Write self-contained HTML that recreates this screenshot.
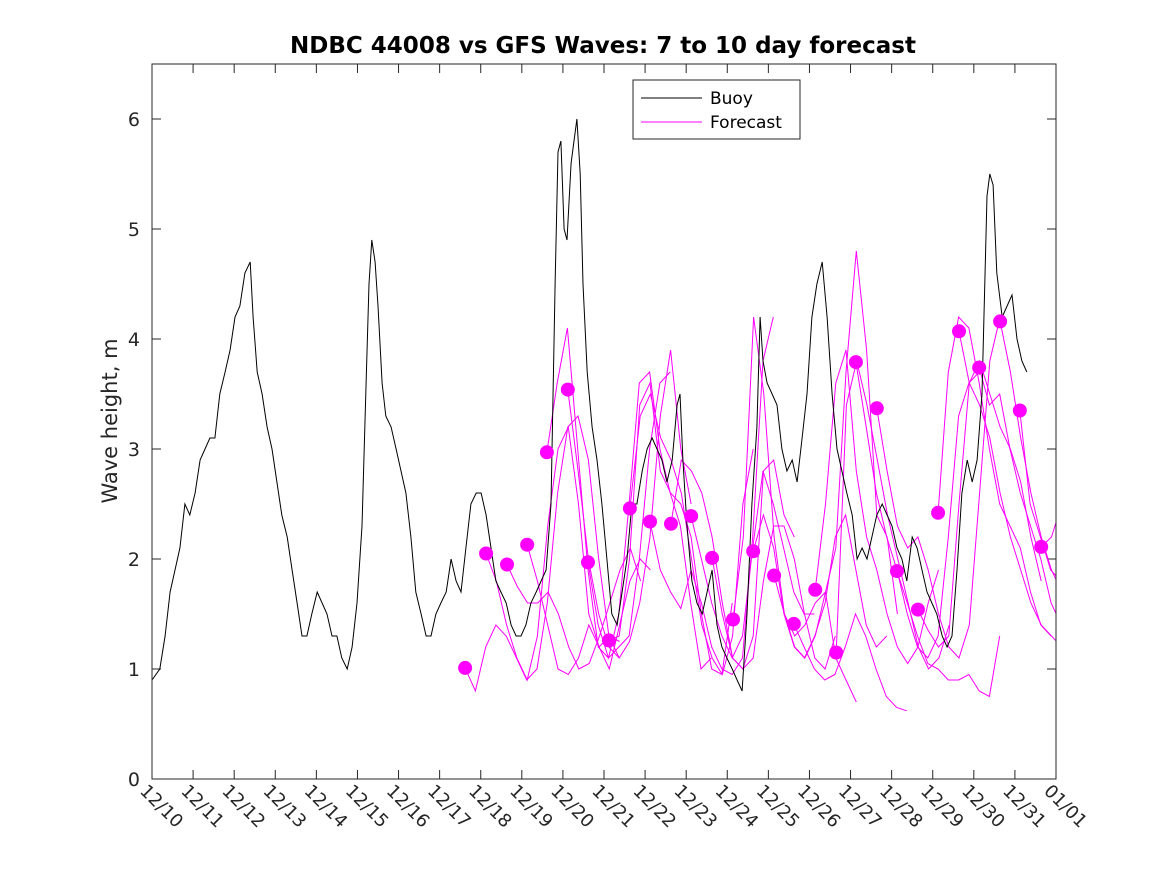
<!DOCTYPE html>
<html><head><meta charset="utf-8">
<style>
html,body{margin:0;padding:0;background:#fff;}
svg{display:block;font-family:"DejaVu Sans","Liberation Sans",sans-serif;}
</style></head>
<body>
<svg id="chart" width="1167" height="875" viewBox="0 0 1167 875" xmlns="http://www.w3.org/2000/svg">
<rect width="1167" height="875" fill="#fff"/>
<text x="603" y="53" text-anchor="middle" font-size="23" font-weight="bold" fill="#000">NDBC 44008 vs GFS Waves: 7 to 10 day forecast</text>
<text transform="translate(117,421) rotate(-90)" text-anchor="middle" font-size="21" fill="#262626">Wave height, m</text>
<defs><clipPath id="plotclip"><rect x="152" y="64" width="904" height="715"/></clipPath></defs>
<g id="ticks"></g>
<g id="marks" clip-path="url(#plotclip)"></g>
<rect x="152" y="64" width="904" height="715" fill="none" stroke="#262626" stroke-width="1"/>
<g>
<rect x="633" y="80" width="167" height="59" fill="#fff" stroke="#262626" stroke-width="1"/>
<line x1="641" y1="98" x2="702" y2="98" stroke="#000" stroke-width="1"/>
<text x="710" y="104" font-size="17" fill="#000">Buoy</text>
<line x1="641" y1="122" x2="702" y2="122" stroke="#f0f" stroke-width="1"/>
<text x="710" y="128" font-size="17" fill="#000">Forecast</text>
</g>
</svg>
<script>
const xTickLabels=["12/10","12/11","12/12","12/13","12/14","12/15","12/16","12/17","12/18","12/19","12/20","12/21","12/22","12/23","12/24","12/25","12/26","12/27","12/28","12/29","12/30","12/31","01/01"];
const yTicks=[0,1,2,3,4,5,6];
const buoyT=[0,0.19,0.32,0.44,0.56,0.68,0.80,0.92,1.05,1.17,1.29,1.41,1.53,1.65,1.78,1.90,2.02,2.14,2.26,2.39,2.46,2.56,2.68,2.80,2.92,3.04,3.16,3.29,3.41,3.53,3.65,3.77,3.89,4.02,4.14,4.26,4.38,4.50,4.62,4.75,4.87,4.99,5.11,5.21,5.28,5.35,5.43,5.50,5.60,5.69,5.82,5.94,6.06,6.18,6.30,6.42,6.55,6.67,6.79,6.91,7.03,7.16,7.28,7.40,7.52,7.64,7.76,7.89,8.01,8.13,8.25,8.37,8.49,8.62,8.74,8.86,8.98,9.10,9.22,9.35,9.47,9.59,9.71,9.81,9.88,9.95,10.03,10.10,10.20,10.27,10.34,10.42,10.49,10.59,10.71,10.83,10.95,11.07,11.19,11.32,11.44,11.56,11.68,11.80,11.93,12.05,12.17,12.29,12.41,12.53,12.66,12.78,12.85,12.92,13.02,13.14,13.26,13.39,13.51,13.63,13.75,13.87,13.99,14.12,14.24,14.36,14.48,14.60,14.72,14.80,14.87,14.97,15.09,15.21,15.33,15.45,15.58,15.70,15.82,15.94,16.06,16.18,16.31,16.43,16.55,16.67,16.79,16.91,17.04,17.16,17.28,17.40,17.52,17.64,17.77,17.89,18.01,18.13,18.25,18.37,18.50,18.62,18.74,18.86,18.98,19.10,19.23,19.35,19.47,19.59,19.71,19.84,19.96,20.08,20.20,20.32,20.39,20.47,20.56,20.69,20.81,20.93,21.05,21.17,21.29];
const buoyH=[0.9,1.0,1.3,1.7,1.9,2.1,2.5,2.4,2.6,2.9,3.0,3.1,3.1,3.5,3.7,3.9,4.2,4.3,4.6,4.7,4.2,3.7,3.5,3.2,3.0,2.7,2.4,2.2,1.9,1.6,1.3,1.3,1.5,1.7,1.6,1.5,1.3,1.3,1.1,1.0,1.2,1.6,2.3,3.6,4.5,4.9,4.7,4.3,3.6,3.3,3.2,3.0,2.8,2.6,2.2,1.7,1.5,1.3,1.3,1.5,1.6,1.7,2.0,1.8,1.7,2.1,2.5,2.6,2.6,2.4,2.1,1.8,1.7,1.6,1.4,1.3,1.3,1.4,1.6,1.7,1.8,1.9,2.5,4.5,5.7,5.8,5.0,4.9,5.6,5.8,6.0,5.5,4.5,3.7,3.2,2.9,2.5,2.0,1.5,1.4,1.7,2.0,2.5,2.5,2.8,3.0,3.1,3.0,2.9,2.7,2.9,3.4,3.5,2.9,2.3,1.8,1.6,1.5,1.7,1.9,1.4,1.2,1.1,1.0,0.9,0.8,1.5,2.5,3.2,4.2,3.8,3.6,3.5,3.4,3.0,2.8,2.9,2.7,3.1,3.5,4.2,4.5,4.7,4.2,3.5,3.0,2.8,2.6,2.4,2.0,2.1,2.0,2.2,2.4,2.5,2.4,2.3,2.1,2.0,1.8,2.2,2.1,1.9,1.7,1.6,1.5,1.3,1.2,1.3,1.9,2.6,2.9,2.7,2.9,3.5,5.3,5.5,5.4,4.6,4.2,4.3,4.4,4.0,3.8,3.7];
const fcStart=[7.62,8.13,8.64,9.13,9.61,10.12,10.61,11.12,11.63,12.12,12.63,13.12,13.63,14.14,14.63,15.14,15.62,16.14,16.65,17.13,17.64,18.13,18.64,19.13,19.64,20.13,20.64,21.12,21.64];
const fcDot=[1.01,2.05,1.95,2.13,2.97,3.54,1.97,1.26,2.46,2.34,2.32,2.39,2.01,1.45,2.07,1.85,1.41,1.72,1.15,3.79,3.37,1.89,1.54,2.42,4.07,3.74,4.16,3.35,2.11];
const fcVals=[
[1.01,0.8,1.2,1.4,1.3,1.1,0.9,1.0,1.6,2.6,3.2,3.3,2.9,2.0,1.3,1.1],
[2.05,1.8,1.4,1.1,0.9,1.3,2.3,3.0,3.2,2.5,1.5,1.2,1.3,1.25],
[1.95,1.75,1.6,1.6,1.7,1.5,1.2,1.0,1.05,1.3,1.6,1.9,2.1,1.8],
[2.13,1.8,1.4,1.0,0.95,1.1,1.4,1.2,1.0,1.4,1.8,2.0,1.9],
[2.97,3.6,4.1,3.0,1.9,1.2,1.1,1.2,1.3,2.0,3.0,3.6,3.7],
[3.54,2.8,2.0,1.5,1.2,1.1,1.25,1.6,2.2,3.3,3.9,3.0,2.5],
[1.97,1.4,1.1,1.5,2.5,3.6,3.7,3.0,2.6,2.3,1.6,1.0,1.1],
[1.26,1.3,2.0,3.4,3.6,2.8,2.6,2.5,2.2,1.5,1.0,0.95,1.6],
[2.46,3.3,3.5,3.1,2.9,2.6,2.0,1.4,1.1,0.95,1.3,2.5,3.0],
[2.34,1.9,1.7,1.55,1.9,1.6,1.2,1.0,0.95,1.1,2.2,3.8,4.2],
[2.32,2.9,2.8,2.6,2.2,1.6,1.1,1.0,1.3,2.8,2.9,2.4,2.2],
[2.39,2.0,1.6,1.3,1.1,1.3,2.1,2.8,2.5,2.1,1.7,1.5,1.5],
[2.01,1.5,1.1,1.0,1.1,1.8,2.3,2.3,2.0,1.5,1.1,1.0,1.3],
[1.45,2.2,4.2,3.5,2.2,1.5,1.3,1.4,1.6,1.7,1.1,0.9,0.7],
[2.07,2.4,2.1,1.5,1.2,1.1,1.3,1.6,2.2,2.4,1.9,1.4,1.2,1.3],
[1.85,1.5,1.2,1.1,1.3,1.7,2.1,3.7,4.8,3.9,2.4,2.2,1.5],
[1.41,1.2,1.0,0.9,0.95,1.2,1.5,1.3,1.0,0.75,0.65,0.62],
[1.72,2.5,3.6,3.9,2.8,2.2,1.9,1.5,1.2,1.05,1.2,1.6,1.9],
[1.15,3.4,3.8,3.4,2.9,2.4,2.0,1.6,1.2,1.0,1.1,1.4],
[3.79,3.2,2.6,2.2,1.9,1.5,1.2,1.1,1.3,2.2,3.3,3.6,3.7],
[3.37,2.8,2.3,2.1,2.2,1.9,1.5,1.2,1.1,1.4,2.6,3.8,4.2],
[1.89,1.6,1.3,1.05,1.0,0.9,0.9,0.95,0.8,0.75,1.3],
[1.54,1.35,1.2,1.3,2.5,3.6,3.8,3.5,3.2,3.0,2.7,2.2,1.8],
[2.42,3.7,4.2,4.1,3.6,3.0,2.5,2.3,2.1,1.7,1.4,1.3],
[4.07,3.6,3.4,3.1,2.6,2.2,1.9,1.6,1.4,1.3,1.2],
[3.74,3.4,3.5,3.0,2.6,2.3,2.0,1.6,1.4,1.2],
[4.16,3.7,3.1,2.6,2.2,1.9,1.7,1.5,1.4,1.25],
[3.35,2.5,2.2,1.9,1.8,1.8],
[2.11,2.2,2.5]
];
const fcStep=0.25;
const NS="http://www.w3.org/2000/svg";
const X0=152,X1=1056,Y0=779,Y1=64,DAYS=22,YMAX=6.5;
function xs(d){return X0+(X1-X0)*d/DAYS;}
function ys(v){return Y0-(Y0-Y1)*v/YMAX;}
function mk(tag,attrs,parent){const e=document.createElementNS(NS,tag);for(const k in attrs)e.setAttribute(k,attrs[k]);parent.appendChild(e);return e;}
const ticks=document.getElementById('ticks');
const marks=document.getElementById('marks');
xTickLabels.forEach((lab,i)=>{
  const x=xs(i);
  const t1=mk('line',{x1:x,y1:Y0,x2:x,y2:Y0-9,stroke:'#262626'},ticks);
  
  
  const t2=mk('line',{x1:x,y1:Y1,x2:x,y2:Y1+9,stroke:'#262626'},ticks);
  
  
  const tx=mk('text',{x:0,y:0,'font-size':18,fill:'#262626',transform:`translate(${x-13},${Y0+13}) rotate(45)`},ticks);
  tx.textContent=lab;
  
  
});
yTicks.forEach(v=>{
  const y=ys(v);
  const t1=mk('line',{x1:X0,y1:y,x2:X0+9,y2:y,stroke:'#262626'},ticks);
  
  
  const t2=mk('line',{x1:X1,y1:y,x2:X1-9,y2:y,stroke:'#262626'},ticks);
  
  
  const tx=mk('text',{x:X0-12,y:y+7,'font-size':19,fill:'#262626','text-anchor':'end'},ticks);
  tx.textContent=v;
  
  
});
fcVals.forEach((vals,i)=>{
  const pts=vals.map((v,j)=>xs(fcStart[i]+j*fcStep).toFixed(1)+','+ys(v).toFixed(1)).join(' ');
  const pl=mk('polyline',{points:pts,fill:'none',stroke:'#f0f','stroke-width':1},marks);
  
  
});
const bpts=buoyT.map((t,i)=>xs(t).toFixed(1)+','+ys(buoyH[i]).toFixed(1)).join(' ');
const bl=mk('polyline',{points:bpts,fill:'none',stroke:'#000','stroke-width':1},marks);


fcStart.forEach((t,i)=>{
  const c=mk('circle',{cx:xs(t),cy:ys(fcDot[i]),r:7,fill:'#f0f'},marks);
  
  
});
</script>
</body></html>
